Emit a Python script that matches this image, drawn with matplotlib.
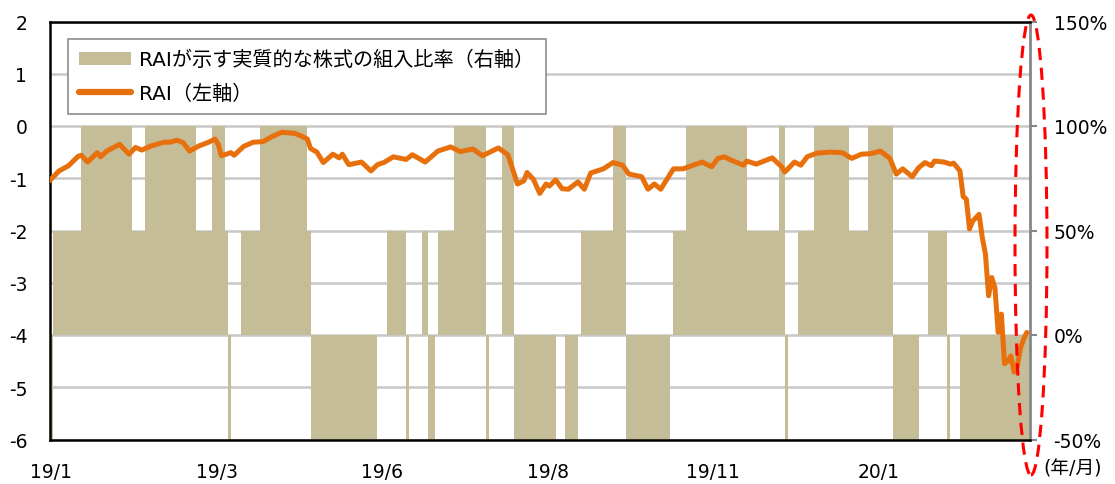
"""RAI (Risk Appetite Index) vs. implied equity weight, Jan 2019 - Mar 2020."""

import matplotlib
matplotlib.use("Agg")
import matplotlib.pyplot as plt
import numpy as np
from matplotlib.lines import Line2D
from matplotlib.patches import Ellipse, Patch
from matplotlib.ticker import FuncFormatter, MultipleLocator

# ---- data (business-day index 0 = start of 2019/1) --------------------------
N_DAYS = 308
TICK_POS = [0, 52, 104, 156, 208, 260]
TICK_LABELS = ["19/1", "19/3", "19/6", "19/8", "19/11", "20/1"]

# equity weight implied by RAI: first day of each run and its weight (%)
SEG_START = [0, 1, 10, 26, 30, 46, 51, 55, 56, 57, 60, 66, 81, 82, 103, 106,
             112, 113, 117, 119, 121, 122, 127, 137, 138, 142, 146, 159, 162,
             166, 167, 177, 181, 195, 196, 200, 219, 229, 231, 232, 235, 240,
             251, 257, 265, 273, 276, 282, 283, 286]
SEG_WEIGHT = [-50, 50, 100, 50, 100, 50, 100, 50, -50, 0, 50, 100, 50, -50, 0, 50,
              -50, 0, 50, -50, 0, 50, 100, -50, 0, 100, -50, 0, -50,
              0, 50, 100, -50, 0, 50, 100, 50, 100, -50, 0, 50, 100,
              50, 100, -50, 0, 50, -50, 0, -50]

RAI_IDX = [0, 3, 6, 9, 10, 12, 15, 16, 18, 22, 25, 27, 29, 32, 36, 38, 40, 42,
           44, 47, 50, 52, 53, 54, 57, 58, 61, 64, 67, 70, 73, 77, 79, 81, 82,
           84, 86, 89, 91, 92, 94, 98, 101, 103, 105, 108, 112, 114, 118, 122,
           126, 129, 133, 136, 141, 144, 147, 149, 150, 152, 154, 156, 157, 159,
           161, 163, 166, 168, 170, 174, 177, 180, 182, 186, 188, 190, 192, 196,
           199, 205, 208, 210, 212, 214, 218, 219, 222, 227, 230, 231, 234, 236,
           238, 241, 245, 249, 252, 255, 258, 261, 264, 266, 268, 271, 273, 275,
           277, 278, 281, 283, 284, 286, 287, 288, 289, 290, 292, 293, 294, 295,
           296, 297, 298, 299, 300, 301, 302, 303, 304, 305, 306, 307]
RAI_VAL = [-1.05, -0.86, -0.76, -0.58, -0.56, -0.69, -0.51, -0.59, -0.48, -0.35,
           -0.54, -0.41, -0.46, -0.38, -0.31, -0.31, -0.27, -0.32, -0.48, -0.38,
           -0.31, -0.25, -0.35, -0.57, -0.51, -0.56, -0.39, -0.31, -0.30, -0.20,
           -0.12, -0.14, -0.19, -0.25, -0.43, -0.50, -0.70, -0.54, -0.61, -0.54,
           -0.74, -0.69, -0.86, -0.74, -0.70, -0.59, -0.64, -0.55, -0.69, -0.48,
           -0.40, -0.49, -0.44, -0.57, -0.42, -0.55, -1.11, -1.05, -0.89, -1.02,
           -1.29, -1.11, -1.15, -1.03, -1.20, -1.21, -1.07, -1.21, -0.90, -0.82,
           -0.70, -0.75, -0.92, -0.97, -1.21, -1.11, -1.21, -0.82, -0.82, -0.69,
           -0.78, -0.62, -0.59, -0.65, -0.75, -0.67, -0.73, -0.61, -0.78, -0.88,
           -0.69, -0.75, -0.59, -0.52, -0.50, -0.51, -0.62, -0.54, -0.53, -0.48,
           -0.62, -0.92, -0.82, -0.97, -0.80, -0.70, -0.76, -0.67, -0.69, -0.73,
           -0.71, -0.86, -1.35, -1.40, -1.97, -1.82, -1.69, -2.13, -2.45, -3.25,
           -2.90, -3.10, -3.95, -3.60, -4.55, -4.50, -4.40, -4.71, -4.60, -4.25,
           -4.08, -3.95]

TAN = "#C4BD97"
ORANGE = "#E8700C"
GRID = "#C8C8C8"


def _setup_style() -> None:
    plt.rcParams.update({
        "font.size": 13.5,
        "axes.unicode_minus": False,
    })
    plt.rcParams["font.family"] = ["DejaVu Sans", "Noto Sans CJK JP"]


def main() -> None:
    _setup_style()
    fig = plt.figure(figsize=(11.15, 4.85), dpi=100)
    ax = fig.add_axes([49.5 / 1115, 1 - 440.5 / 485, 980.5 / 1115, 418 / 485])
    ax2 = ax.twinx()

    # weight bars + grid live on the secondary axis, behind the RAI line
    starts = np.array(SEG_START)
    widths = np.diff(np.r_[starts, N_DAYS])
    ax2.bar(starts, SEG_WEIGHT, width=widths, align="edge", color=TAN,
            linewidth=0, zorder=2)
    ax2.set_ylim(-50, 150)
    ax2.yaxis.set_major_locator(MultipleLocator(50))
    ax2.yaxis.set_minor_locator(MultipleLocator(25))
    ax2.yaxis.set_major_formatter(FuncFormatter(lambda v, _: f"{v:.0f}%"))
    ax2.grid(which="both", axis="y", color=GRID, linewidth=1.8, zorder=0)
    ax2.set_axisbelow(True)
    ax2.tick_params(axis="y", which="major", length=5, width=1.5,
                    color="#868686", pad=12)
    ax2.tick_params(axis="y", which="minor", length=0)
    for side in ("left", "top", "bottom"):
        ax2.spines[side].set_visible(False)
    ax2.spines["right"].set_color("#868686")
    ax2.spines["right"].set_linewidth(2)

    ax.set_zorder(ax2.get_zorder() + 1)
    ax.patch.set_visible(False)
    ax.plot(RAI_IDX, RAI_VAL, color=ORANGE, linewidth=3.6,
            solid_joinstyle="round", solid_capstyle="round", zorder=3)
    ax.set_ylim(-6, 2)
    ax.set_yticks(range(-6, 3))
    ax.set_xlim(0, N_DAYS)
    ax.set_xticks([p + 0.5 for p in TICK_POS])
    ax.set_xticklabels(TICK_LABELS)
    ax.tick_params(axis="y", length=0, pad=16)
    ax.tick_params(axis="x", length=0, pad=16)
    for side in ("left", "top", "bottom"):
        ax.spines[side].set_color("black")
        ax.spines[side].set_linewidth(1.8)
    ax.spines["right"].set_visible(False)

    handles = [
        Patch(facecolor=TAN, edgecolor="none"),
        Line2D([], [], color=ORANGE, linewidth=4.5, solid_capstyle="round"),
    ]
    labels = ["RAIが示す実質的な株式の組入比率（右軸）", "RAI（左軸）"]
    leg = ax.legend(handles, labels, loc="upper left",
                    bbox_to_anchor=(18.5 / 980.5, 1 - 17.5 / 418),
                    borderaxespad=0, fancybox=False, framealpha=1,
                    edgecolor="#8C8C8C", handlelength=2.6, handleheight=0.6,
                    handletextpad=0.4, labelspacing=0.7, borderpad=0.55,
                    fontsize=14.5)
    leg.get_frame().set_linewidth(1.2)

    fig.text(1073 / 1115, 1 - 469 / 485, "(年/月)", ha="center", va="center",
             fontsize=13.5)

    # dashed highlight around the right-hand axis
    fig.add_artist(Ellipse((1031 / 1115, 1 - 246 / 485), 32 / 1115, 460 / 485,
                           transform=fig.transFigure, fill=False,
                           edgecolor="#FF0000", linewidth=2.2,
                           linestyle=(0, (4, 2.5)), zorder=10))

    fig.savefig("out.png", dpi=100)
    plt.close(fig)


if __name__ == "__main__":
    main()
